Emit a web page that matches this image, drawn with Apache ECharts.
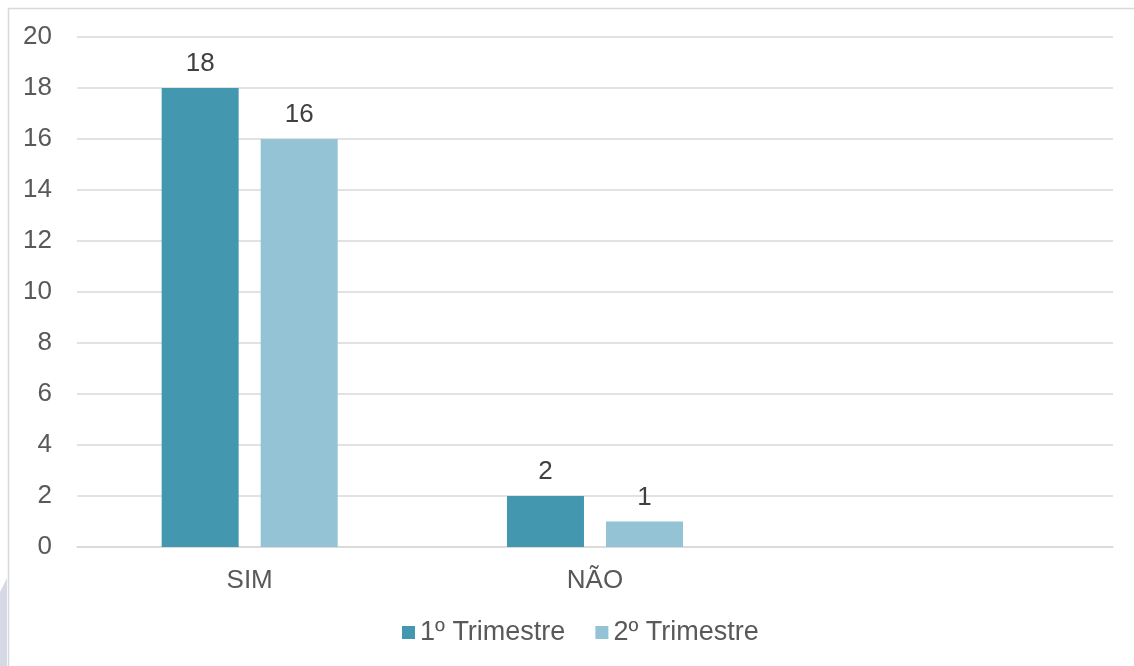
<!DOCTYPE html>
<html>
<head>
<meta charset="utf-8">
<script src="https://cdn.jsdelivr.net/npm/echarts@6/dist/echarts.min.js"></script>
<style>
  html, body { margin: 0; padding: 0; background: #fff; }
  #chart { width: 1134px; height: 666px; }
</style>
</head>
<body>
<div id="chart"></div>
<script>
// dados do gráfico
const categories = ['SIM', 'NÃO', '']
const trimestre1 = [18, 2, null]
const trimestre2 = [16, 1, null]
const seriesNames = ['1º Trimestre', '2º Trimestre']

const chart = echarts.init(document.getElementById('chart'))

const labelStyle = {
  show: true,
  position: 'top',
  distance: 11,
  color: '#404040',
  fontSize: 26,
  fontFamily: 'Liberation Sans'
}

chart.setOption({
  animation: false,
  textStyle: { fontFamily: 'Liberation Sans' },
  graphic: [
    { // moldura
      type: 'rect',
      shape: { x: 8.5, y: 8.5, width: 1200, height: 700 },
      style: { fill: 'none', stroke: '#d9d9d9', lineWidth: 1.5 },
      z: -1
    },
    { // marca d'água no canto
      type: 'polygon',
      shape: { points: [[0, 592], [7, 578], [7, 666], [0, 666]] },
      style: { fill: '#d5d9e6' },
      z: -1
    }
  ],
  grid: {
    top: 37,
    left: 77,
    right: 21,
    bottom: 119,
    containLabel: false
  },
  legend: {
    data: seriesNames,
    bottom: 15,
    left: 397,
    itemWidth: 13,
    itemHeight: 13,
    itemGap: 30,
    icon: 'rect',
    textStyle: { color: '#595959', fontSize: 27, padding: [0, 0, 0, 0] }
  },
  xAxis: {
    type: 'category',
    data: categories,
    axisLine: { lineStyle: { color: '#d9d9d9', width: 1.5 } },
    axisTick: { show: false },
    axisLabel: { color: '#595959', fontSize: 26, margin: 21 }
  },
  yAxis: {
    type: 'value',
    min: 0,
    max: 20,
    interval: 2,
    axisLine: { show: false },
    axisTick: { show: false },
    axisLabel: { color: '#595959', fontSize: 26, margin: 25 },
    splitLine: { lineStyle: { color: '#d9d9d9', width: 1.5 } }
  },
  series: [
    {
      name: seriesNames[0],
      type: 'bar',
      data: trimestre1,
      barWidth: 77,
      barGap: '28.6%',
      itemStyle: { color: '#4398b0' },
      label: labelStyle
    },
    {
      name: seriesNames[1],
      type: 'bar',
      data: trimestre2,
      barWidth: 77,
      itemStyle: { color: '#93c3d4' },
      label: labelStyle
    }
  ]
})
</script>
</body>
</html>
